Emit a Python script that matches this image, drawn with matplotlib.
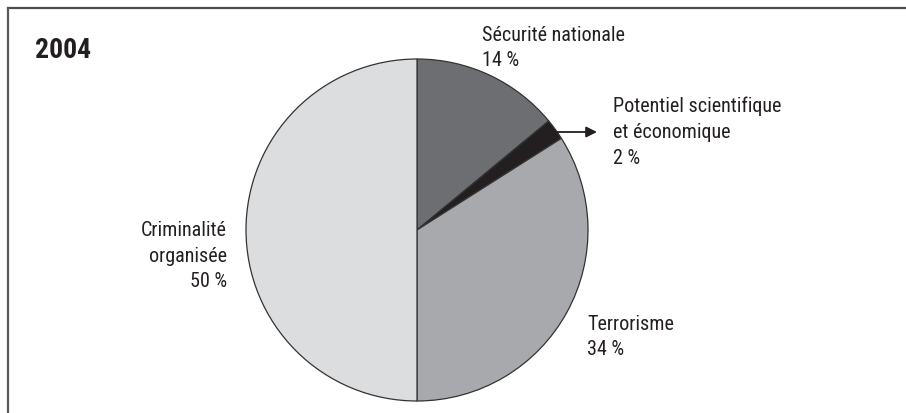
import matplotlib
matplotlib.use("Agg")
import matplotlib.pyplot as plt
from matplotlib.lines import Line2D

# Répartition 2004 (%)
categories = ["Sécurité nationale", "Potentiel scientifique\net économique", "Terrorisme", "Criminalité\norganisée"]
shares = [14, 2, 34, 50]
colors = ["#6d6e71", "#231f20", "#a7a9ac", "#dcdddf"]

W, H = 906, 414
fig = plt.figure(figsize=(W / 100, H / 100), dpi=100)
ax = fig.add_axes([0, 0, 1, 1])

font = ["Roboto Condensed", "Liberation Sans Narrow", "DejaVu Sans"]

ax.pie(shares, colors=colors, startangle=90, counterclock=False,
       center=(417, H - 231), radius=171,
       wedgeprops=dict(edgecolor="#333333", linewidth=0.9))
ax.set_xlim(0, W)
ax.set_ylim(0, H)
ax.set_aspect("equal")
ax.axis("off")

# cadre : ligne du haut et ligne de gauche
fig.add_artist(Line2D([8 / W, 1], [1 - 9 / H, 1 - 9 / H], color="#4d4d4d", lw=1.6))
fig.add_artist(Line2D([8 / W, 8 / W], [0, 1 - 9 / H], color="#5a5a5a", lw=1.6))

ax.text(35, H - 50, "2004", fontsize=20, fontweight="bold", family=font,
        fontstretch="condensed", color="#231f20", va="center", ha="left")

lab = dict(fontsize=14.5, family=font, fontstretch="condensed",
           color="#231f20", linespacing=1.45)
ax.text(482, H - 48, f"{categories[0]}\n{shares[0]} %", ha="left", va="center", **lab)
ax.text(613, H - 132, f"{categories[1]}\n{shares[1]} %", ha="left", va="center", **lab)
ax.text(587, H - 337, f"{categories[2]}\n{shares[2]} %", ha="left", va="center", **lab)
ax.text(227, H - 256, f"{categories[3]}\n{shares[3]} %", ha="right", va="center",
        multialignment="right", **lab)

ax.annotate("", xy=(597, H - 133), xytext=(555, H - 133),
            arrowprops=dict(arrowstyle="-|>", color="#231f20", lw=1.3,
                            mutation_scale=16, shrinkA=0, shrinkB=0))

fig.savefig("out.png", dpi=100, facecolor="white")
